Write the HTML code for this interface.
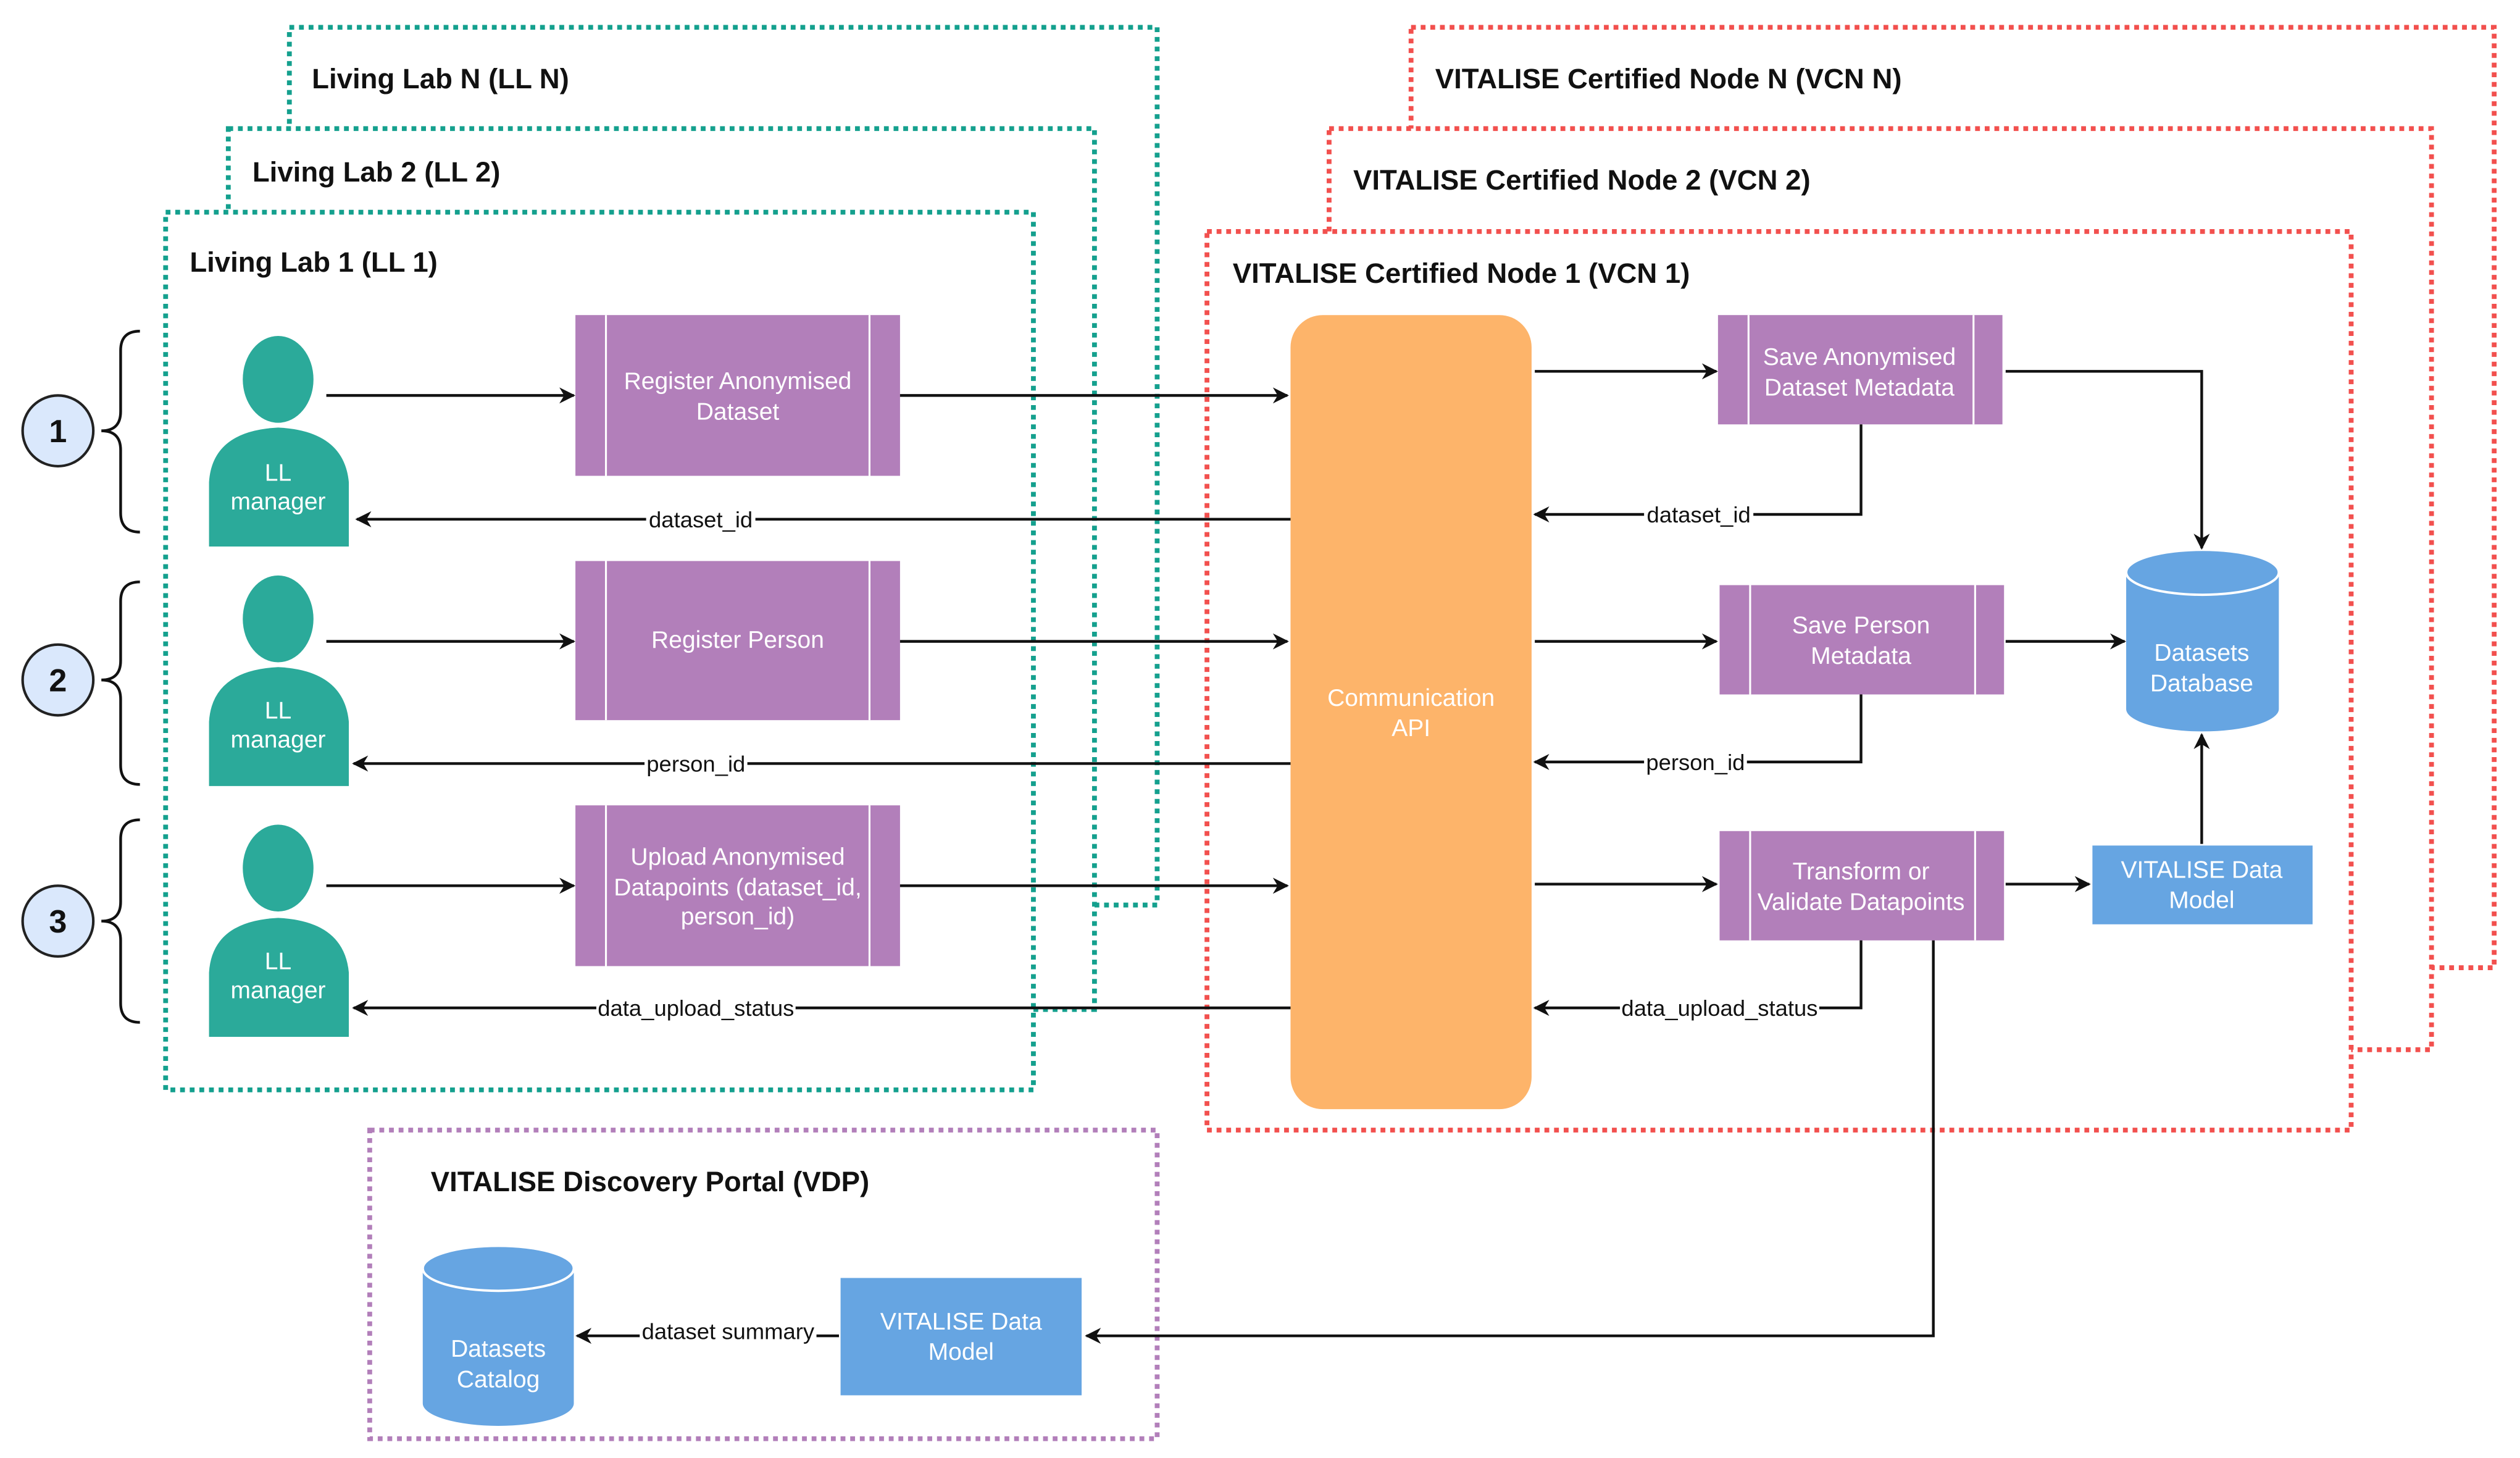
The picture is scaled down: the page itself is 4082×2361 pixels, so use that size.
<!DOCTYPE html>
<html><head><meta charset="utf-8"><style>
html,body{margin:0;padding:0;background:#fff;}
svg{display:block;}
text{font-family:"Liberation Sans",Arial,sans-serif;}
.t{font-weight:bold;font-size:17.5px;fill:#111;}
.w{fill:#fff;font-size:15px;text-anchor:middle;}
.l{font-size:14px;fill:#111;text-anchor:middle;}
.ln{stroke:#111;stroke-width:1.7;fill:none;}
</style></head><body>
<svg width="4082" height="2361" viewBox="0 0 1568 907" xmlns="http://www.w3.org/2000/svg">
<defs>
<marker id="a" viewBox="0 0 10 10" refX="9" refY="5" markerWidth="10" markerHeight="10" orient="auto" markerUnits="userSpaceOnUse"><path d="M0,0 L10,5 L0,10 L3,5 z" fill="#111"/></marker>
</defs>
<rect width="1568" height="907" fill="#fff"/>
<rect x="878" y="17" width="674" height="585" fill="#fff" stroke="#F2504E" stroke-width="3" stroke-dasharray="3,3"/>
<text class="t" x="893" y="55">VITALISE Certified Node N (VCN N)</text>
<rect x="827" y="80" width="686" height="573" fill="#fff" stroke="#F2504E" stroke-width="3" stroke-dasharray="3,3"/>
<text class="t" x="842" y="118">VITALISE Certified Node 2 (VCN 2)</text>
<rect x="751" y="144" width="712" height="559" fill="#fff" stroke="#F2504E" stroke-width="3" stroke-dasharray="3,3"/>
<text class="t" x="767" y="176">VITALISE Certified Node 1 (VCN 1)</text>
<rect x="180" y="17" width="540" height="546" fill="#fff" stroke="#14A08E" stroke-width="3" stroke-dasharray="3,3"/>
<text class="t" x="194" y="55">Living Lab N (LL N)</text>
<rect x="142" y="80" width="539" height="548" fill="#fff" stroke="#14A08E" stroke-width="3" stroke-dasharray="3,3"/>
<text class="t" x="157" y="113">Living Lab 2 (LL 2)</text>
<rect x="103" y="132" width="540" height="546" fill="#fff" stroke="#14A08E" stroke-width="3" stroke-dasharray="3,3"/>
<text class="t" x="118" y="169">Living Lab 1 (LL 1)</text>
<rect x="230" y="703" width="490" height="192" fill="#fff" stroke="#B27FBA" stroke-width="3" stroke-dasharray="3,3"/>
<text class="t" x="268" y="741">VITALISE Discovery Portal (VDP)</text>

<g stroke="#222" stroke-width="1.6">
<circle cx="36" cy="268" r="22" fill="#DAE8FC"/>
<circle cx="36" cy="423" r="22" fill="#DAE8FC"/>
<circle cx="36" cy="573" r="22" fill="#DAE8FC"/>
</g>
<g font-weight="bold" font-size="20" text-anchor="middle" fill="#111">
<text x="36" y="275">1</text><text x="36" y="430">2</text><text x="36" y="580">3</text>
</g>
<g class="ln">
<path d="M87,206 Q75,206 75,218 L75,256 Q75,268 63,268 Q75,268 75,280 L75,319 Q75,331 87,331"/>
<path d="M87,362 Q75,362 75,374 L75,411 Q75,423 63,423 Q75,423 75,435 L75,476 Q75,488 87,488"/>
<path d="M87,510 Q75,510 75,522 L75,561 Q75,573 63,573 Q75,573 75,585 L75,624 Q75,636 87,636"/>
</g>

<g fill="#2BAA9A">
<ellipse cx="173" cy="236" rx="22" ry="27"/>
<path d="M130,340 L130,300 Q132,268 173,266 Q214,268 217,300 L217,340 Z"/>
<ellipse cx="173" cy="385" rx="22" ry="27"/>
<path d="M130,489 L130,449 Q132,417 173,415 Q214,417 217,449 L217,489 Z"/>
<ellipse cx="173" cy="540" rx="22" ry="27"/>
<path d="M130,645 L130,605 Q132,573 173,571 Q214,573 217,605 L217,645 Z"/>
</g>
<text class="w" x="173" y="299">LL</text><text class="w" x="173" y="317">manager</text>
<text class="w" x="173" y="447">LL</text><text class="w" x="173" y="465">manager</text>
<text class="w" x="173" y="603">LL</text><text class="w" x="173" y="621">manager</text>

<g fill="#B27FBA">
<rect x="358" y="196" width="202" height="100"/>
<rect x="358" y="349" width="202" height="99"/>
<rect x="358" y="501" width="202" height="100"/>
<rect x="1069" y="196" width="177" height="68"/>
<rect x="1070" y="364" width="177" height="68"/>
<rect x="1070" y="517" width="177" height="68"/>
</g>
<g stroke="#fff" stroke-width="1.2">
<line x1="377" y1="196" x2="377" y2="296"/><line x1="541" y1="196" x2="541" y2="296"/>
<line x1="377" y1="349" x2="377" y2="448"/><line x1="541" y1="349" x2="541" y2="448"/>
<line x1="377" y1="501" x2="377" y2="601"/><line x1="541" y1="501" x2="541" y2="601"/>
<line x1="1088" y1="196" x2="1088" y2="264"/><line x1="1228" y1="196" x2="1228" y2="264"/>
<line x1="1089" y1="364" x2="1089" y2="432"/><line x1="1229" y1="364" x2="1229" y2="432"/>
<line x1="1089" y1="517" x2="1089" y2="585"/><line x1="1229" y1="517" x2="1229" y2="585"/>
</g>
<text class="w" x="459" y="242">Register Anonymised</text><text class="w" x="459" y="261">Dataset</text>
<text class="w" x="459" y="403">Register Person</text>
<text class="w" x="459" y="538">Upload Anonymised</text><text class="w" x="459" y="557">Datapoints (dataset_id,</text><text class="w" x="459" y="575">person_id)</text>
<text class="w" x="1157" y="227">Save Anonymised</text><text class="w" x="1157" y="246">Dataset Metadata</text>
<text class="w" x="1158" y="394">Save Person</text><text class="w" x="1158" y="413">Metadata</text>
<text class="w" x="1158" y="547">Transform or</text><text class="w" x="1158" y="566">Validate Datapoints</text>

<rect x="803" y="196" width="150" height="494" rx="20" fill="#FDB46A"/>
<text class="w" x="878" y="439">Communication</text><text class="w" x="878" y="458">API</text>

<g fill="#66A5E2">
<path d="M1323,356 L1323,441 A47.5,14 0 0 0 1418,441 L1418,356 Z"/>
<path d="M263,789 L263,873 A47,14 0 0 0 357,873 L357,789 Z"/>
<rect x="1302" y="526" width="137" height="49"/>
<rect x="523" y="795" width="150" height="73"/>
</g>
<ellipse cx="1370.5" cy="356" rx="47.5" ry="14" fill="#66A5E2" stroke="#fff" stroke-width="1.5"/>
<ellipse cx="310" cy="789" rx="47" ry="14" fill="#66A5E2" stroke="#fff" stroke-width="1.5"/>
<text class="w" x="1370" y="411">Datasets</text><text class="w" x="1370" y="430">Database</text>
<text class="w" x="310" y="844">Datasets</text><text class="w" x="310" y="863">Catalog</text>
<text class="w" x="1370" y="546">VITALISE Data</text><text class="w" x="1370" y="565">Model</text>
<text class="w" x="598" y="827">VITALISE Data</text><text class="w" x="598" y="846">Model</text>

<g class="ln" marker-end="url(#a)">
<path d="M203,246 L357,246"/>
<path d="M560,246 L801,246"/>
<path d="M803,323 L222,323"/>
<path d="M203,399 L357,399"/>
<path d="M560,399 L801,399"/>
<path d="M803,475 L220,475"/>
<path d="M203,551 L357,551"/>
<path d="M560,551 L801,551"/>
<path d="M803,627 L220,627"/>
<path d="M955,231 L1068,231"/>
<path d="M1158,264 L1158,320 L955,320"/>
<path d="M1248,231 L1370,231 L1370,341"/>
<path d="M955,399 L1068,399"/>
<path d="M1158,432 L1158,474 L955,474"/>
<path d="M1248,399 L1322,399"/>
<path d="M955,550 L1068,550"/>
<path d="M1158,585 L1158,627 L955,627"/>
<path d="M1248,550 L1300,550"/>
<path d="M1370,525 L1370,457"/>
<path d="M1203,585 L1203,831 L676,831"/>
<path d="M522,831 L359,831"/>
</g>
<g class="l">
<rect x="402" y="314" width="68" height="17" fill="#fff"/><text x="436" y="328">dataset_id</text>
<rect x="401" y="466" width="64" height="17" fill="#fff"/><text x="433" y="480">person_id</text>
<rect x="371" y="618" width="124" height="17" fill="#fff"/><text x="433" y="632">data_upload_status</text>
<rect x="1023" y="311" width="68" height="17" fill="#fff"/><text x="1057" y="325">dataset_id</text>
<rect x="1023" y="465" width="64" height="17" fill="#fff"/><text x="1055" y="479">person_id</text>
<rect x="1008" y="618" width="124" height="17" fill="#fff"/><text x="1070" y="632">data_upload_status</text>
<rect x="398" y="822" width="110" height="17" fill="#fff"/><text x="453" y="833">dataset summary</text>
</g>
</svg>
</body></html>
